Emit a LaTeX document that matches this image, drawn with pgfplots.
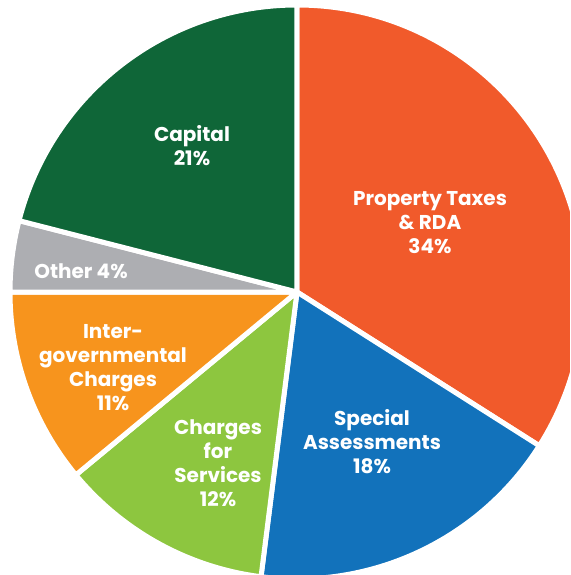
\documentclass[border=0pt]{standalone}
\usepackage{fontspec}
\setmainfont{Poppins}
\usepackage{pgfplots}
\usepackage{pgfplotstable}
\pgfplotsset{compat=1.18}

\definecolor{cprop}{HTML}{F15A2B}
\definecolor{cspec}{HTML}{1272BB}
\definecolor{cserv}{HTML}{8DC63F}
\definecolor{cinter}{HTML}{F7941D}
\definecolor{cother}{HTML}{ADAEB2}
\definecolor{ccap}{HTML}{0F6638}

\tikzset{lbl/.style={font=\bfseries\fontsize{10}{12}\selectfont, text=white, align=center, inner sep=0pt}}

% shares in percent, clockwise from 12 o'clock
\pgfplotstableread{
value colour
34 cprop
18 cspec
12 cserv
11 cinter
4  cother
21 ccap
}\piedata

\begin{document}
\begin{tikzpicture}
\begin{axis}[
    scale only axis,
    width=285pt, height=287.5pt,
    xmin=-297, xmax=273,
    ymin=-283, ymax=292,
    hide axis,
    clip=true,
]
\def\cum{90}
\pgfplotsforeachungrouped \i in {0,...,5}{
  \pgfplotstablegetelem{\i}{value}\of\piedata
  \pgfmathsetmacro\endang{\cum - 3.6*\pgfplotsretval}
  \pgfplotstablegetelem{\i}{colour}\of\piedata
  \edef\col{\pgfplotsretval}
  \edef\temp{\noexpand\fill[\col, draw=white, line width=2.5pt, line join=round]
    (axis cs:0,0) -- ++(\cum:143.5pt)
    arc[start angle=\cum, end angle=\endang, radius=143.5pt] -- cycle;}
  \temp
  \global\let\cum\endang
}
\node[lbl] at (axis cs:133,69) {Property Taxes\\\& RDA\\34\%};
\node[lbl] at (axis cs:75,-150) {Special\\Assessments\\18\%};
\node[lbl] at (axis cs:-79,-171.5) {Charges\\for\\Services\\12\%};
\node[lbl] at (axis cs:-184,-76) {Inter-\\governmental\\Charges\\11\%};
\node[lbl] at (axis cs:-216,21) {Other 4\%};
\node[lbl] at (axis cs:-105,146.5) {Capital\\21\%};
\end{axis}
\pgfresetboundingbox
\path[use as bounding box] (current axis.south west) rectangle (current axis.north east);
\end{tikzpicture}
\end{document}
